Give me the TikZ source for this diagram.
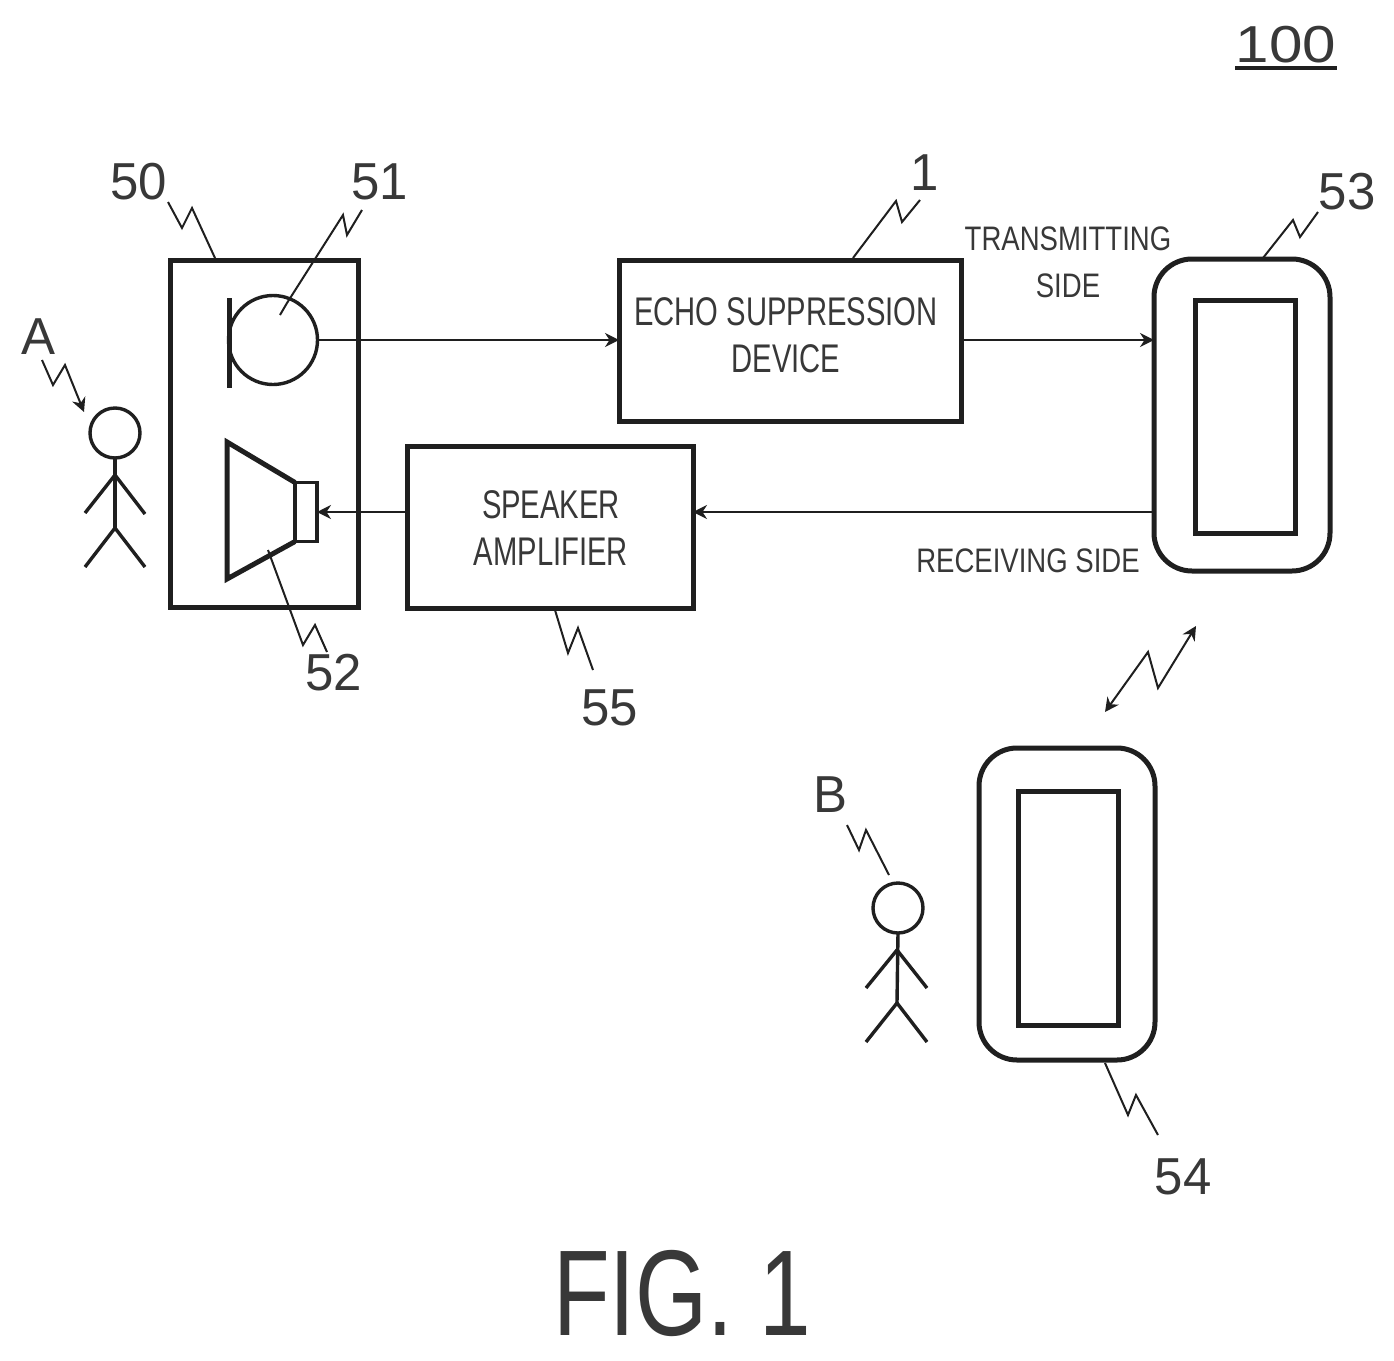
\documentclass[tikz,border=0pt]{standalone}
\usepackage{fontspec}
\setmainfont{Liberation Sans}
\usetikzlibrary{arrows.meta}
\definecolor{ink}{gray}{0.12}
\definecolor{txt}{gray}{0.22}
\tikzset{
  x=0.5pt,y=-0.5pt,
  thick line/.style={draw=ink,line width=2.5pt},
  mid line/.style={draw=ink,line width=1.7pt},
  thin line/.style={draw=ink,line width=1pt},
  block/.style={thick line,rectangle,inner sep=0pt,outer sep=0pt,align=center},
  rblock/.style={block,rounded corners=19pt},
  head/.style={mid line,circle,inner sep=0pt,outer sep=0pt,minimum size=25pt},
  tip/.style={-{Stealth[length=7pt,width=7pt]}},
  twotip/.style={{Stealth[length=7pt,width=7pt]}-{Stealth[length=7pt,width=7pt]}},
  boxtext/.style={text=txt,font=\fontsize{20}{23.5}\selectfont,align=center,transform shape,xscale=0.73,inner sep=0pt},
  reftext/.style={text=txt,font=\fontsize{26}{30}\selectfont,inner sep=0pt,transform shape,xscale=0.98},
  sidetext/.style={text=txt,font=\fontsize{17}{23.5}\selectfont,align=center,inner sep=0pt,transform shape,xscale=0.81},
}
\begin{document}
\begin{tikzpicture}
\useasboundingbox (0,0) rectangle (1394,1361);
% blocks
\node[block,minimum width=94pt,minimum height=173.5pt] (case) at (264,433.5) {};
\node[block,minimum width=171pt,minimum height=80.5pt] (echo) at (790,340.5) {};
\node[block,minimum width=143pt,minimum height=81pt] (amp) at (550,527) {};
\node[rblock,minimum width=88pt,minimum height=156pt] (ph53) at (1242,415) {};
\node[block,minimum width=50pt,minimum height=116.5pt] (scr53) at (1245,416.5) {};
\node[rblock,minimum width=88pt,minimum height=156pt] (ph54) at (1067,904) {};
\node[block,minimum width=50pt,minimum height=117pt] (scr54) at (1068.5,908) {};
% microphone
\node[mid line,circle,inner sep=0pt,outer sep=0pt,minimum size=44.5pt] (mic) at (273,340) {};
\coordinate (barT) at (229,298);
\coordinate (barB) at (229,388);
\draw[thick line] (barT) -- (barB);
% loudspeaker
\node[mid line,rectangle,inner sep=0pt,outer sep=0pt,minimum width=11pt,minimum height=29.5pt] (coil) at (306,512) {};
\coordinate (coneT) at (227,442);
\coordinate (coneB) at (227,579);
\draw[thick line,line join=miter] (coil.north west) -- (coneT) -- (coneB) -- (coil.south west);
% signal lines
\draw[thin line,tip] (mic.east) -- (mic.east -| echo.west);
\draw[thin line,tip] (echo.east |- mic.east) -- (mic.east -| ph53.west);
\coordinate (rx) at (ph53.west |- coil.east);
\draw[thin line,tip] (rx) -- (amp.east |- rx);
\draw[thin line,tip] (amp.west |- rx) -- (coil.east);
% person A
\node[head] (hA) at (115,433) {};
\coordinate (nA) at (115,475);
\coordinate (wA) at (115,528);
\draw[mid line] (hA.south) -- (wA);
\draw[mid line] (85,513) -- (nA) -- (145,514);
\draw[mid line] (85,567) -- (wA) -- (145,567);
% person B
\node[head] (hB) at (898,908) {};
\coordinate (nB) at (897,950);
\coordinate (wB) at (897,1003);
\draw[mid line] (hB.south) -- (wB);
\draw[mid line] (866,988) -- (nB) -- (927,988);
\draw[mid line] (866,1042) -- (wB) -- (927,1042);
% labels
\node[reftext,xscale=1.18] (t100) at (1286,45) {100};
\draw[mid line] (t100.south west |- 0,68) -- (t100.south east |- 0,68);
\node[reftext] (t50) at (139,182) {50};
\node[reftext] (t51) at (380,182) {51};
\node[reftext] (t1) at (925,173) {1};
\node[reftext] (t53) at (1347,192) {53};
\node[reftext] (tA) at (38,337) {A};
\node[reftext] (t52) at (334,673) {52};
\node[reftext] (t55) at (610,708) {55};
\node[reftext] (tB) at (830,795) {B};
\node[reftext] (t54) at (1183,1177) {54};
% lead lines
\coordinate (a50) at (168,202); \coordinate (b50) at (215,258);
\draw[thin line] (a50) -- (182,228) -- (192,208) -- (b50);
\coordinate (a51) at (362,210); \coordinate (b51) at (287,303);
\draw[thin line] (a51) -- (347,235) -- (343,215) -- (b51) -- (280,315);
\coordinate (a1) at (920,200); \coordinate (b1) at (853,258);
\draw[thin line] (a1) -- (902,222) -- (896,201) -- (b1);
\coordinate (a53) at (1318,212); \coordinate (b53) at (1263,258);
\draw[thin line] (a53) -- (1300,237) -- (1293,220) -- (b53);
\coordinate (aA) at (42,360); \coordinate (bA) at (84,412);
\draw[thin line,tip] (aA) -- (53,385) -- (65,365) -- (bA);
\coordinate (a52) at (268,550); \coordinate (b52) at (327,652);
\draw[thin line] (a52) -- (303,645) -- (315,625) -- (b52);
\coordinate (a55) at (555,610); \coordinate (b55) at (593,670);
\draw[thin line] (a55) -- (568,653) -- (578,628) -- (b55);
\coordinate (aB) at (847,825); \coordinate (bB) at (889,875);
\draw[thin line] (aB) -- (859,850) -- (866,830) -- (bB);
\coordinate (a54) at (1105,1063); \coordinate (b54) at (1158,1135);
\draw[thin line] (a54) -- (1128,1115) -- (1136,1095) -- (b54);
\coordinate (ra) at (1105,712); \coordinate (rb) at (1196,626);
\draw[thin line,twotip] (ra) -- (1148,652) -- (1158,688) -- (rb);
% block texts
\node[boxtext] (techo) at (786,335) {ECHO SUPPRESSION\\DEVICE};
\node[boxtext] (tamp) at (551,528) {SPEAKER\\AMPLIFIER};
\node[sidetext] (ttx) at (1068,262) {TRANSMITTING\\SIDE};
\node[sidetext] (trx) at (1028,561) {RECEIVING SIDE};
\node[text=txt,font=\fontsize{61}{61}\selectfont,inner sep=0pt,transform shape,xscale=0.76] (fig) at (682,1293) {FIG. 1};
\end{tikzpicture}
\end{document}
